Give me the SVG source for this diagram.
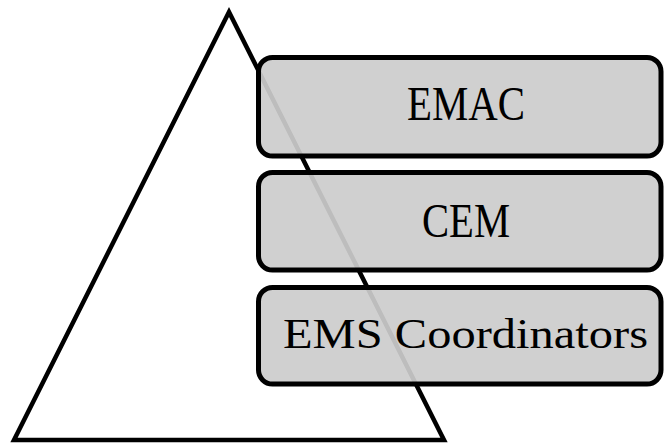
<svg xmlns="http://www.w3.org/2000/svg" width="665" height="443" viewBox="0 0 665 443">
<style>
.box{fill:#cccccc;fill-opacity:0.925;stroke:#000;stroke-width:5}
.lbl{font-family:"Liberation Serif","DejaVu Serif",serif;fill:#000;text-anchor:middle}
</style>
<rect width="665" height="443" fill="#fff"/>
<g id="triangle">
<polygon points="229,12 14,440 444,440" fill="none" stroke="#000" stroke-width="4.5" stroke-linejoin="miter"/>
</g>
<g id="emac">
<rect class="box" x="258.5" y="57.5" width="402.5" height="98.5" rx="14"/>
<text class="lbl" x="466" y="120" font-size="48" textLength="118" lengthAdjust="spacingAndGlyphs">EMAC</text>
</g>
<g id="cem">
<rect class="box" x="258.5" y="172.5" width="402.5" height="97.5" rx="14"/>
<text class="lbl" x="466" y="237" font-size="49" textLength="88" lengthAdjust="spacingAndGlyphs">CEM</text>
</g>
<g id="ems">
<rect class="box" x="258.5" y="287.5" width="402.5" height="96.5" rx="14"/>
<text class="lbl" x="465.5" y="348" font-size="41.5" textLength="365" lengthAdjust="spacingAndGlyphs">EMS Coordinators</text>
</g>
<g id="connectors"/>
</svg>
